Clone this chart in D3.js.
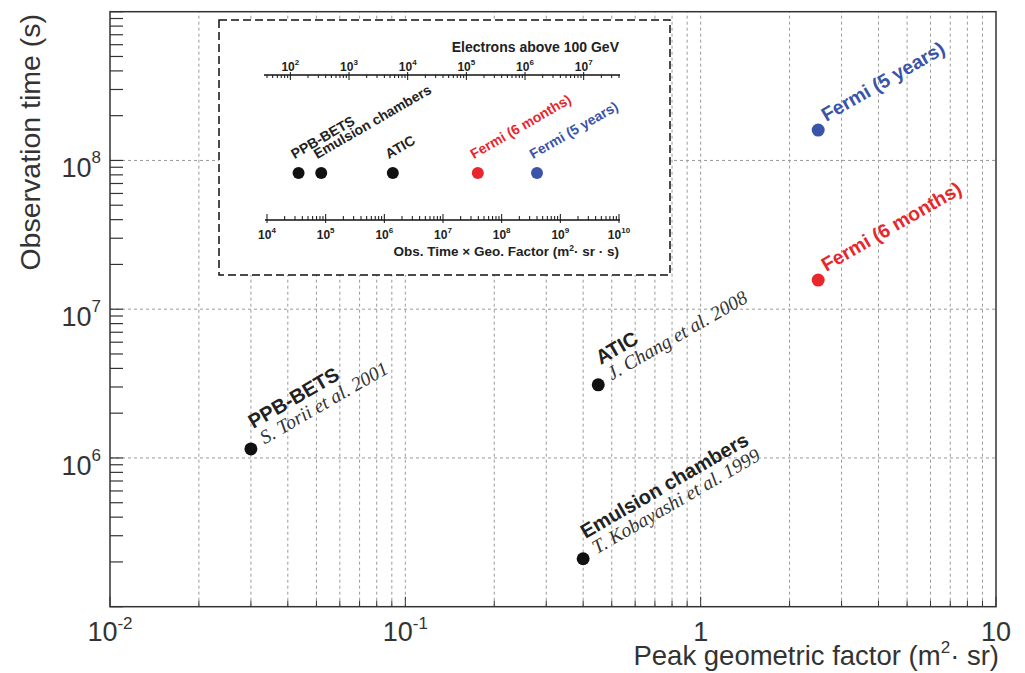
<!DOCTYPE html>
<html>
<head>
<meta charset="utf-8">
<script src="https://cdn.jsdelivr.net/npm/d3@7"></script>
<style>
body { margin: 0; background: #fff; }
svg { display: block; font-family: "Liberation Sans", Arial, Helvetica, sans-serif; }
</style>
</head>
<body>
<svg id="chart" width="1025" height="673"></svg>
<script>
/* ==========================================================================
 * Data
 * ========================================================================== */

var experiments = ["PPB-BETS", "Emulsion chambers", "ATIC", "Fermi (6 months)", "Fermi (5 years)"];
var references  = ["S. Torii et al. 2001", "T. Kobayashi et al. 1999", "J. Chang et al. 2008", "", ""];
var geoFactor   = [0.03, 0.4, 0.45, 2.5, 2.5];          // m2 sr
var obsTime     = [1.15e6, 2.1e5, 3.1e6, 1.57e7, 1.6e8]; // s
var pointColors = ["#111", "#111", "#111", "#e8262b", "#3b53a8"];

// main axes tick labels: [mantissa, exponent]
var xTickValues = [1e-2, 1e-1, 1, 10];
var xTickLabels = [["10", "-2"], ["10", "-1"], ["1", ""], ["10", ""]];
var yTickValues = [1e6, 1e7, 1e8];
var yTickLabels = [["10", "6"], ["10", "7"], ["10", "8"]];

// inset: electrons above 100 GeV per unit of exposure
var electronsPerExposure = 4e-3;
var exposureDomain = [1e4, 1e10];


var svg = d3.select("#chart");

function isDecade(v) {
    var l = Math.log10(v);
    return Math.abs(l - Math.round(l)) < 1e-6;
}

// add "10^n" style label made of two tspans
function powLabel(sel, parts, supSize, supDy) {
    sel.append("tspan").text(parts[0]);
    if (parts[1] !== "") {
        sel.append("tspan").attr("font-size", supSize).attr("dy", supDy).text(parts[1]);
    }
}

/* ==========================================================================
 * Main plot
 * ========================================================================== */

var x = d3.scaleLog().domain([1e-2, 10]).range([110, 996]);
var y = d3.scaleLog().domain([1e5, 1e9]).range([606.7, 11.7]);

var grid = svg.append("g").attr("stroke", "#9a9a9a").attr("stroke-width", 1)
    .attr("stroke-dasharray", "3,3");

grid.selectAll("line.v").data(x.ticks().filter(function(d) { return d > 1e-2 && d < 10; }))
    .enter().append("line").attr("class", "v")
    .attr("x1", function(d) { return x(d); }).attr("x2", function(d) { return x(d); })
    .attr("y1", y.range()[0]).attr("y2", y.range()[1]);

grid.selectAll("line.h").data(yTickValues)
    .enter().append("line").attr("class", "h")
    .attr("x1", x.range()[0]).attr("x2", x.range()[1])
    .attr("y1", function(d) { return y(d); }).attr("y2", function(d) { return y(d); });

// y ticks (inside, all minors)
svg.append("g").attr("stroke", "#333").attr("stroke-width", 1.2)
    .selectAll("line").data(y.ticks()).enter().append("line")
    .attr("x1", x.range()[0]).attr("x2", x.range()[0] + 13)
    .attr("y1", function(d) { return y(d); }).attr("y2", function(d) { return y(d); });

// x ticks (inside, short)
svg.append("g").attr("stroke", "#333").attr("stroke-width", 1)
    .selectAll("line").data(x.ticks()).enter().append("line")
    .attr("x1", function(d) { return x(d); }).attr("x2", function(d) { return x(d); })
    .attr("y1", y.range()[0]).attr("y2", function(d) { return y.range()[0] - (isDecade(d) ? 10 : 6); });

// frame
svg.append("rect")
    .attr("x", x.range()[0]).attr("y", y.range()[1])
    .attr("width", x.range()[1] - x.range()[0]).attr("height", y.range()[0] - y.range()[1])
    .attr("fill", "none").attr("stroke", "#333").attr("stroke-width", 1.5);

// tick labels
svg.append("g").selectAll("text").data(xTickValues).enter().append("text")
    .attr("x", function(d) { return x(d); }).attr("y", 641)
    .attr("text-anchor", "middle").attr("font-size", 27).attr("fill", "#333")
    .each(function(d, i) { powLabel(d3.select(this), xTickLabels[i], 17, -12); });

svg.append("g").selectAll("text").data(yTickValues).enter().append("text")
    .attr("x", 101).attr("y", function(d) { return y(d) + 17; })
    .attr("text-anchor", "end").attr("font-size", 27).attr("fill", "#333")
    .each(function(d, i) { powLabel(d3.select(this), yTickLabels[i], 17, -14); });

// axis titles
var xt = svg.append("text").attr("x", 999).attr("y", 665).attr("text-anchor", "end")
    .attr("font-size", 27.5).attr("fill", "#333");
xt.append("tspan").text("Peak geometric factor (m");
xt.append("tspan").attr("font-size", 17).attr("dy", -12).text("2");
xt.append("tspan").attr("dy", 12).text("\u00b7 sr)");

svg.append("text").attr("transform", "translate(40,14) rotate(-90)")
    .attr("text-anchor", "end").attr("font-size", 28.5).attr("fill", "#333")
    .text("Observation time (s)");

// points and labels
var pts = svg.append("g").selectAll("g").data(experiments).enter().append("g")
    .attr("transform", function(d, i) { return "translate(" + x(geoFactor[i]) + "," + y(obsTime[i]) + ")"; });

pts.append("circle").attr("r", 6.5).attr("fill", function(d, i) { return pointColors[i]; });

pts.each(function(d, i) {
    var g = d3.select(this).append("g").attr("transform", "rotate(-30)");
    if (references[i] === "") {
        g.append("text").attr("x", 11).attr("y", -3)
            .attr("font-size", 19.5).attr("font-weight", "bold").attr("fill", pointColors[i]).text(d);
    } else {
        g.append("text").attr("x", 12).attr("y", -16)
            .attr("font-size", 20).attr("font-weight", "bold").attr("fill", "#222").text(d);
        g.append("text").attr("x", 14).attr("y", 3)
            .attr("font-family", "'Liberation Serif', 'Times New Roman', serif")
            .attr("font-style", "italic").attr("font-size", 19.5).attr("fill", "#333").text(references[i]);
    }
});

/* ==========================================================================
 * Inset
 * ========================================================================== */

var inset = svg.append("g");
inset.append("rect").attr("x", 219).attr("y", 20).attr("width", 451).attr("height", 255)
    .attr("fill", "#fff").attr("stroke", "#111").attr("stroke-width", 1.5)
    .attr("stroke-dasharray", "8,4");

var xe = d3.scaleLog().domain(exposureDomain).range([267, 619]);
var xn = d3.scaleLog().domain(exposureDomain.map(function(d) { return d * electronsPerExposure; }))
    .range([267, 619]);

var botY = 220, topY = 75;

// bottom axis: exposure
inset.append("line").attr("x1", 265).attr("x2", 620).attr("y1", botY).attr("y2", botY)
    .attr("stroke", "#111").attr("stroke-width", 1.3);
inset.append("g").attr("stroke", "#111").attr("stroke-width", 1)
    .selectAll("line").data(xe.ticks()).enter().append("line")
    .attr("x1", function(d) { return xe(d); }).attr("x2", function(d) { return xe(d); })
    .attr("y1", function(d) { return isDecade(d) ? botY - 6 : botY - 4; })
    .attr("y2", function(d) { return isDecade(d) ? botY + 3 : botY; });
inset.append("g").selectAll("text").data(xe.ticks().filter(isDecade)).enter().append("text")
    .attr("x", function(d) { return xe(d); }).attr("y", botY + 19)
    .attr("text-anchor", "middle").attr("font-size", 12).attr("font-weight", "bold").attr("fill", "#222")
    .each(function(d) {
        powLabel(d3.select(this), ["10", String(Math.round(Math.log10(d)))], 8, -6);
    });

var ot = inset.append("text").attr("x", 619).attr("y", 256).attr("text-anchor", "end")
    .attr("font-size", 13.5).attr("font-weight", "bold").attr("fill", "#222");
ot.append("tspan").text("Obs. Time \u00d7 Geo. Factor (m");
ot.append("tspan").attr("font-size", 8.5).attr("dy", -5).text("2");
ot.append("tspan").attr("dy", 5).text("\u00b7 sr \u00b7 s)");

// top axis: electrons
inset.append("line").attr("x1", 264).attr("x2", 620).attr("y1", topY).attr("y2", topY)
    .attr("stroke", "#111").attr("stroke-width", 1.3);
inset.append("g").attr("stroke", "#111").attr("stroke-width", 1)
    .selectAll("line").data(xn.ticks()).enter().append("line")
    .attr("x1", function(d) { return xn(d); }).attr("x2", function(d) { return xn(d); })
    .attr("y1", function(d) { return isDecade(d) ? topY - 3 : topY; })
    .attr("y2", function(d) { return isDecade(d) ? topY + 5 : topY + 3; });
inset.append("g").selectAll("text").data(xn.ticks().filter(isDecade)).enter().append("text")
    .attr("x", function(d) { return xn(d); }).attr("y", topY - 4)
    .attr("text-anchor", "middle").attr("font-size", 12).attr("font-weight", "bold").attr("fill", "#222")
    .each(function(d) {
        powLabel(d3.select(this), ["10", String(Math.round(Math.log10(d)))], 8, -6);
    });

inset.append("text").attr("x", 619).attr("y", 52).attr("text-anchor", "end")
    .attr("font-size", 14).attr("font-weight", "bold").attr("fill", "#222")
    .text("Electrons above 100 GeV");

// inset points
var ipts = inset.append("g").selectAll("g").data(experiments).enter().append("g")
    .attr("transform", function(d, i) { return "translate(" + xe(geoFactor[i] * obsTime[i]) + ",173)"; });
ipts.append("circle").attr("r", 6).attr("fill", function(d, i) { return pointColors[i]; });
ipts.append("text").attr("transform", "rotate(-30)").attr("x", 3.5).attr("y", -14)
    .attr("font-size", 14).attr("font-weight", "bold")
    .attr("fill", function(d, i) { return i < 3 ? "#222" : pointColors[i]; })
    .text(function(d) { return d; });
</script>
</body>
</html>
